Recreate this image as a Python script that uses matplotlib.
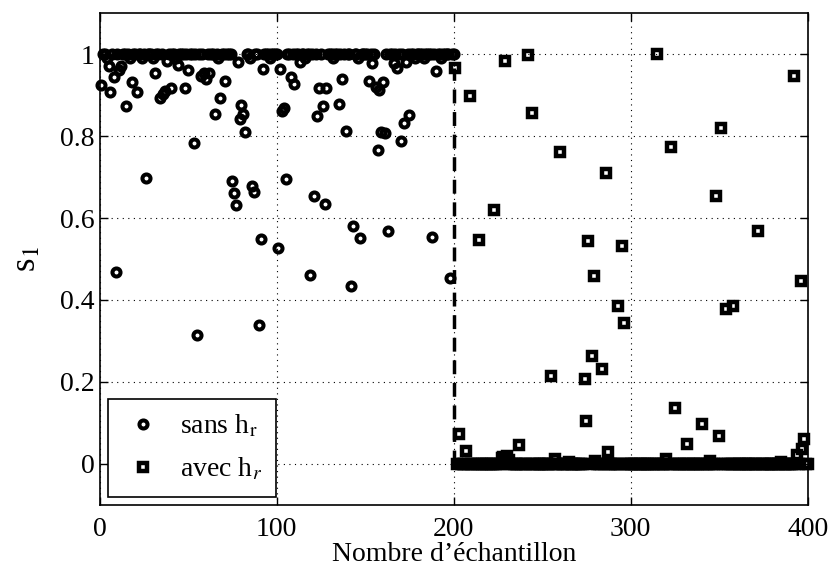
import numpy as np
import matplotlib
matplotlib.use('Agg')
import matplotlib.pyplot as plt

plt.rcParams['font.family'] = ['Liberation Serif', 'DejaVu Serif']
plt.rcParams['mathtext.fontset'] = 'stix'

# s1 values, samples 1..200 (sans h_r)
sans_hr = [
    0.924, 1.0, 1.0, 0.99, 0.970, 0.908, 1.0, 0.944, 0.469, 1.0,
    0.960, 0.972, 1.0, 1.0, 0.874, 1.0, 0.99, 0.931, 1.0, 1.0,
    0.907, 1.0, 1.0, 0.99, 1.0, 0.697, 1.0, 1.0, 1.0, 0.99,
    0.955, 1.0, 1.0, 0.892, 1.0, 0.902, 0.911, 0.984, 1.0, 0.916,
    1.0, 1.0, 0.99, 0.973, 1.0, 1.0, 1.0, 0.916, 1.0, 0.961,
    1.0, 1.0, 0.782, 1.0, 0.315, 1.0, 0.947, 1.0, 0.955, 0.939,
    1.0, 0.955, 1.0, 1.0, 0.854, 1.0, 0.99, 0.892, 1.0, 1.0,
    0.935, 1.0, 1.0, 1.0, 0.691, 0.661, 0.632, 0.980, 0.841, 0.876,
    0.854, 0.809, 1.0, 1.0, 0.99, 0.679, 0.663, 1.0, 1.0, 0.340,
    0.550, 0.963, 1.0, 1.0, 1.0, 0.99, 1.0, 1.0, 1.0, 1.0,
    0.527, 0.963, 0.862, 0.868, 0.695, 1.0, 1.0, 0.943, 1.0, 0.927,
    1.0, 1.0, 0.980, 1.0, 1.0, 0.99, 1.0, 1.0, 0.461, 1.0,
    0.653, 1.0, 0.850, 0.917, 1.0, 0.874, 0.634, 0.917, 1.0, 1.0,
    1.0, 0.99, 1.0, 1.0, 0.878, 1.0, 0.939, 1.0, 0.813, 1.0,
    1.0, 0.433, 0.580, 1.0, 1.0, 0.99, 0.551, 1.0, 1.0, 1.0,
    1.0, 0.935, 1.0, 0.977, 1.0, 0.919, 0.767, 0.912, 0.809, 0.932,
    0.807, 1.0, 0.568, 1.0, 1.0, 0.978, 1.0, 0.967, 1.0, 0.789,
    1.0, 0.833, 0.980, 1.0, 0.851, 1.0, 1.0, 0.99, 1.0, 1.0,
    1.0, 1.0, 0.99, 1.0, 1.0, 1.0, 1.0, 0.554, 1.0, 0.959,
    1.0, 1.0, 0.99, 1.0, 1.0, 1.0, 1.0, 0.453, 1.0, 1.0,
]

# samples 201..400 (avec h_r)
avec_hr = [
    0.965, 0.0, 0.073, 0.0, 0.0, 0.0, 0.032, 0.0, 0.898, 0.0,
    0.0, 0.0, 0.0, 0.546, 0.0, 0.0, 0.0, 0.0, 0.0, 0.0,
    0.0, 0.0, 0.619, 0.0, 0.0, 0.0, 0.015, 0.018, 0.984, 0.02,
    0.01, 0.0, 0.0, 0.0, 0.0, 0.0, 0.047, 0.0, 0.0, 0.0,
    0.0, 0.998, 0.0, 0.856, 0.0, 0.0, 0.0, 0.0, 0.0, 0.0,
    0.0, 0.0, 0.0, 0.0, 0.215, 0.0, 0.012, 0.0, 0.0, 0.760,
    0.0, 0.0, 0.0, 0.0, 0.005, 0.0, 0.0, 0.0, 0.0, 0.0,
    0.0, 0.0, 0.0, 0.207, 0.105, 0.545, 0.0, 0.263, 0.458, 0.008,
    0.0, 0.0, 0.0, 0.232, 0.0, 0.711, 0.028, 0.0, 0.0, 0.0,
    0.0, 0.0, 0.386, 0.0, 0.532, 0.343, 0.0, 0.0, 0.0, 0.0,
    0.0, 0.0, 0.0, 0.0, 0.0, 0.0, 0.0, 0.0, 0.0, 0.0,
    0.0, 0.0, 0.0, 0.0, 1.0, 0.0, 0.0, 0.0, 0.0, 0.012,
    0.0, 0.0, 0.774, 0.0, 0.136, 0.0, 0.0, 0.0, 0.0, 0.0,
    0.0, 0.048, 0.0, 0.0, 0.0, 0.0, 0.0, 0.0, 0.0, 0.098,
    0.0, 0.0, 0.0, 0.0, 0.008, 0.0, 0.0, 0.654, 0.0, 0.069,
    0.820, 0.0, 0.0, 0.378, 0.0, 0.0, 0.0, 0.385, 0.0, 0.0,
    0.0, 0.0, 0.0, 0.0, 0.0, 0.0, 0.0, 0.0, 0.0, 0.0,
    0.0, 0.569, 0.0, 0.0, 0.0, 0.0, 0.0, 0.0, 0.0, 0.0,
    0.0, 0.0, 0.0, 0.0, 0.006, 0.0, 0.0, 0.0, 0.0, 0.0,
    0.0, 0.947, 0.0, 0.022, 0.0, 0.447, 0.037, 0.061, 0.0, 0.0,
]

x_sans = np.arange(1, len(sans_hr) + 1)
x_avec = np.arange(len(sans_hr) + 1, len(sans_hr) + len(avec_hr) + 1)

fig = plt.figure(figsize=(8.31, 5.68), dpi=100)
ax = fig.add_axes([0.120, 0.111, 0.852, 0.866])

# matlab-like hollow markers (no fill, so overlaps go solid black)
ax.plot(x_sans, sans_hr, 'o', color='black', mfc='none', ms=5.8, mew=2.9,
        label=r'sans h$_{\mathrm{r}}$', clip_on=False)
ax.plot(x_avec, avec_hr, 's', color='black', mfc='none', ms=5.6, mew=3.2,
        label=r'avec h$_{r}$', clip_on=False)
ax.plot([200, 200], [0, avec_hr[0]], '--', color='black', lw=2.5, dashes=(4, 2.5))

ax.set_xlim(0, 400)
ax.set_ylim(-0.1, 1.1)
ax.set_xticks([0, 100, 200, 300, 400])
ax.set_yticks([0, 0.2, 0.4, 0.6, 0.8, 1.0])
ax.set_yticklabels(['0', '0.2', '0.4', '0.6', '0.8', '1'])
ax.grid(True, linestyle=(0, (1, 4)), color='black', lw=0.8)
ax.tick_params(direction='in', top=True, right=True, labelsize=20, length=6, width=1)
ax.tick_params(axis='x', pad=9)
for s in ax.spines.values():
    s.set_linewidth(1.2)

ax.set_xlabel("Nombre d’échantillon", fontsize=20, labelpad=0)
ax.set_ylabel(r's$_1$', fontsize=25, labelpad=12)

leg = ax.legend(loc='lower left', fontsize=20, fancybox=False, framealpha=1,
                edgecolor='black', handletextpad=0.6, borderaxespad=0.3,
                borderpad=0.5, labelspacing=0.6, handlelength=1.5)
leg.get_frame().set_linewidth(1.2)

fig.savefig('out.png', dpi=100)
